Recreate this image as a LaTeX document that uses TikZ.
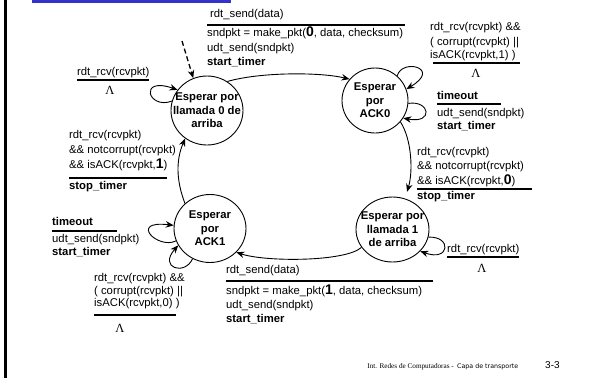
\documentclass[tikz,border=0pt]{standalone}
\usepackage{fontspec}
\setmainfont{Liberation Sans}
\newfontfamily\tnrfont{Liberation Serif}
\newfontfamily\handfont{DejaVu Sans}
\usetikzlibrary{arrows.meta,shapes.geometric}
\definecolor{slideblue}{RGB}{51,51,204}
\newcommand{\bigdig}[1]{{\fontsize{14}{14}\selectfont\bfseries #1}}
\begin{document}
\begin{tikzpicture}[x=1pt,y=-1pt,
  state/.style={draw, line width=0.9pt, ellipse, inner sep=0pt},
  stxt/.style={font=\fontsize{11.3}{13.5}\selectfont\bfseries, align=center, inner sep=0pt},
  lbl/.style={font=\fontsize{11.3}{14}\selectfont, anchor=west, inner sep=0pt, text height=8pt, text depth=2.5pt},
  ul/.style={line width=1.4pt},
  edge/.style={line width=0.9pt, -{Stealth[length=8pt,width=6.5pt]}},
  lam/.style={font=\tnrfont\fontsize{12.5}{12.5}\selectfont, inner sep=0pt}]

\useasboundingbox (0,0) rectangle (589,378);
\fill[black] (4.3,0) rectangle (7.3,378);
\fill[slideblue] (32,0) rectangle (231,3.2);

% states
\node[state, minimum width=72pt, minimum height=69pt] (S0) at (207,110.5) {};
\node[stxt] (S0t) at (S0) {Esperar por\\llamada 0 de\\arriba};
\node[state, minimum width=66pt, minimum height=65pt] (S1) at (375,100.5) {};
\node[stxt] (S1t) at (S1) {Esperar\\por\\ACK0};
\node[state, minimum width=73pt, minimum height=65pt] (S2) at (392.5,229.5) {};
\node[stxt] (S2t) at (S2) {Esperar por\\llamada 1\\de arriba};
\node[state, minimum width=72pt, minimum height=68pt] (S3) at (210,228.5) {};
\node[stxt] (S3t) at (S3) {Esperar\\por\\ACK1};

% connectors
\coordinate (init) at (182,41);
\draw[edge, line width=1.3pt, dash pattern=on 5pt off 3pt] (init) -- (S0.113);
\draw[edge] (S0.55) .. controls (260,72) and (320,72) .. (S1.140);
\draw[edge] (S1.48) .. controls (402,58) and (442,68) .. (S1.20);
\draw[edge] (S1.-5) .. controls (430,100) and (434,124) .. (S1.-32);
\draw[edge, shorten >=7pt] (S1.-40) .. controls (412,140) and (413,172) .. (S2.68);
\draw[edge] (S2.-12) .. controls (452,236) and (450,262) .. (S2.-38);
\draw[edge] (S2.-150) .. controls (345,262) and (265,262) .. (S3.-42);
\draw[edge] (S3.-160) .. controls (158,250) and (128,220) .. (S3.175);
\draw[edge] (S3.-120) .. controls (185,276) and (158,268) .. (S3.-152);
\draw[edge] (S3.135) .. controls (176,180) and (176,160) .. (S0.-128);
\draw[edge] (S0.165) .. controls (148,110) and (138,76) .. (S0.145);

% label S0 -> S1
\node[lbl] (a1) at (210,15) {rdt\_send(data)};
\draw[ul] (207,25) -- (405,25);
\node[lbl] (a2) at (207,34) {sndpkt = make\_pkt(\bigdig{0}, data, checksum)};
\node[lbl] (a3) at (207,49) {udt\_send(sndpkt)};
\node[lbl] (a4) at (207,63) {\bfseries start\_timer};

% S0 loop
\node[lbl] (b1) at (77,73) {rdt\_rcv(rcvpkt)};
\draw[ul] (77,80) -- (149,80);
\node[lam] (b2) at (110,90) {Λ};

% S3 -> S0
\node[lbl] (c1) at (69,136) {rdt\_rcv(rcvpkt)};
\node[lbl] (c2) at (69,151) {\&\& notcorrupt(rcvpkt)};
\node[lbl] (c3) at (69,166) {\&\& isACK(rcvpkt,\bigdig{1})};
\draw[ul] (69,178) -- (167,178);
\node[lbl] (c4) at (69,187) {\bfseries stop\_timer};

% S1 top loop
\node[lbl] (d1) at (430,28) {rdt\_rcv(rcvpkt) \&\&};
\node[lbl] (d2) at (430,43) {( corrupt(rcvpkt) ||};
\node[lbl] (d3) at (430,56) {isACK(rcvpkt,1) )};
\draw[ul] (433,63) -- (520,63);
\node[lam] (d4) at (476,73) {Λ};

% S1 right loop
\node[lbl] (e1) at (437,97) {\bfseries timeout};
\draw[ul] (437,104) -- (501,104);
\node[lbl] (e2) at (437,114) {udt\_send(sndpkt)};
\node[lbl] (e3) at (437,127) {\bfseries start\_timer};

% S1 -> S2
\node[lbl] (g1) at (417,153) {rdt\_rcv(rcvpkt)};
\node[lbl] (g2) at (417,167) {\&\& notcorrupt(rcvpkt)};
\node[lbl] (g3) at (417,182) {\&\& isACK(rcvpkt,\bigdig{0})};
\draw[ul] (417,189) -- (532,189);
\node[lbl] (g4) at (417,197) {\bfseries stop\_timer};

% S2 loop
\node[lbl] (h1) at (447,250) {rdt\_rcv(rcvpkt)};
\draw[ul] (447,257) -- (519,257);
\node[lam] (h2) at (482,268) {Λ};

% S2 -> S3
\node[lbl] (i1) at (226,271) {rdt\_send(data)};
\draw[ul] (226,281) -- (433,281);
\node[lbl] (i2) at (226,292) {sndpkt = make\_pkt(\bigdig{1}, data, checksum)};
\node[lbl] (i3) at (226,306) {udt\_send(sndpkt)};
\node[lbl] (i4) at (226,320) {\bfseries start\_timer};

% S3 timeout loop
\node[lbl] (j1) at (52,223) {\bfseries timeout};
\draw[ul] (52,231) -- (117,231);
\node[lbl] (j2) at (52,240) {udt\_send(sndpkt)};
\node[lbl] (j3) at (52,253) {\bfseries start\_timer};

% S3 second loop
\node[lbl] (k1) at (94,279) {rdt\_rcv(rcvpkt) \&\&};
\node[lbl] (k2) at (94,292) {( corrupt(rcvpkt) ||};
\node[lbl] (k3) at (94,304) {isACK(rcvpkt,0) )};
\draw[ul] (94,315) -- (176,315);
\node[lam] (k4) at (120,328) {Λ};

% footer
\node[anchor=base east, inner sep=0pt, font=\tnrfont\fontsize{7.2}{7.2}\selectfont] (f1) at (454,368) {Int. Redes de Computadoras -};
\node[anchor=base west, inner sep=0pt, font=\handfont\fontsize{6.3}{7}\selectfont] (f2) at (457,368) {Capa de transporte};
\node[anchor=base west, inner sep=0pt, font=\fontsize{10}{10}\selectfont] (f3) at (545,368) {3-3};
\end{tikzpicture}
\end{document}
